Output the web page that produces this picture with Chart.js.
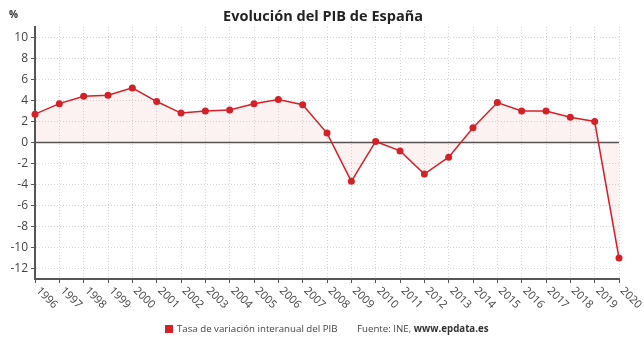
<!DOCTYPE html>
<html lang="es">
  <head>
    <meta charset="UTF-8" />
    <title>Evolución del PIB de España</title>
    <script src="https://cdn.jsdelivr.net/npm/chart.js"></script>
    <style>
      * { margin: 0; padding: 0; box-sizing: border-box; }
      body { background: #ffffff; font-family: "Open Sans", sans-serif; }
      .wrap { position: relative; width: 644px; height: 339px; }
      .footer {
        position: absolute;
        top: 322px;
        left: 0;
        width: 644px;
        font-size: 9.7px;
        line-height: 14px;
        color: #444;
      }
      .footer .legend { position: absolute; left: 165px; white-space: nowrap; }
      .footer .legend i {
        display: inline-block; width: 8px; height: 8px;
        background: #d42027; margin-right: 4px; vertical-align: -1px;
      }
      .footer .source { position: absolute; left: 357px; white-space: nowrap; }
      .footer .source b { color: #333; }
    </style>
  </head>
  <body>
    <div class="wrap">
      <canvas id="pib" width="644" height="339"></canvas>
      <div class="footer">
        <span class="legend"><i></i>Tasa de variación interanual del PIB</span>
        <span class="source">Fuente: INE, <b>www.epdata.es</b></span>
      </div>
    </div>
    <script>
      const years = ["1996", "1997", "1998", "1999", "2000", "2001", "2002", "2003", "2004",
        "2005", "2006", "2007", "2008", "2009", "2010", "2011", "2012", "2013", "2014",
        "2015", "2016", "2017", "2018", "2019", "2020"];
      const pibGrowth = [2.7, 3.7, 4.4, 4.5, 5.2, 3.9, 2.8, 3.0, 3.1, 3.7, 4.1, 3.6, 0.9,
        -3.7, 0.1, -0.8, -3.0, -1.4, 1.4, 3.8, 3.0, 3.0, 2.4, 2.0, -11.0];
      const yTicks = [-12, -10, -8, -6, -4, -2, 0, 2, 4, 6, 8, 10];

      // linea del cero, titulo, % y etiquetas de años giradas
      const extras = {
        id: "extras",
        beforeDatasetsDraw(chart) {
          const { ctx, chartArea, scales } = chart;
          const y0 = scales.y.getPixelForValue(0);
          ctx.save();
          ctx.strokeStyle = "#555";
          ctx.lineWidth = 1.5;
          ctx.beginPath();
          ctx.moveTo(chartArea.left, y0);
          ctx.lineTo(chartArea.right, y0);
          ctx.stroke();
          ctx.restore();
        },
        afterDraw(chart) {
          const { ctx, chartArea, scales } = chart;
          ctx.save();
          ctx.fillStyle = "#222";
          ctx.font = "bold 14.5px 'Open Sans'";
          ctx.textAlign = "center";
          ctx.textBaseline = "middle";
          ctx.fillText("Evolución del PIB de España", 323, 17);
          ctx.font = "bold 10px 'Open Sans'";
          ctx.textAlign = "left";
          ctx.fillStyle = "#333";
          ctx.fillText("%", 9, 15);

          ctx.font = "11px 'Open Sans'";
          ctx.fillStyle = "#444";
          ctx.textBaseline = "middle";
          years.forEach((yr, i) => {
            const x = scales.x.getPixelForValue(i);
            ctx.save();
            ctx.translate(x + 3, chartArea.bottom + 10);
            ctx.rotate(Math.PI / 4);
            ctx.fillText(yr, 0, 0);
            ctx.restore();
          });
          ctx.restore();
        }
      };

      new Chart(document.getElementById("pib"), {
        type: "line",
        data: {
          labels: years,
          datasets: [{
            label: "Tasa de variación interanual del PIB",
            data: pibGrowth,
            borderColor: "#d42027",
            borderWidth: 1.5,
            backgroundColor: "rgba(215, 40, 40, 0.06)",
            fill: "origin",
            tension: 0,
            pointRadius: 3.5,
            pointBackgroundColor: "#d42027",
            pointBorderColor: "#d42027",
            pointBorderWidth: 0
          }]
        },
        options: {
          responsive: false,
          animation: false,
          layout: { padding: { top: 27, right: 25, left: 0, bottom: 0 } },
          plugins: {
            legend: { display: false },
            tooltip: { enabled: false }
          },
          scales: {
            x: {
              offset: false,
              afterFit: (s) => { s.height = 60; },
              ticks: { display: false },
              grid: {
                color: "#d6d6d6",
                tickColor: "#555",
                tickLength: 4,
                drawTicks: true
              },
              border: { color: "#555", width: 2, dash: [1, 2] }
            },
            y: {
              min: -13,
              max: 11,
              afterFit: (s) => { s.width = 35; },
              afterBuildTicks: (s) => { s.ticks = yTicks.map((v) => ({ value: v })); },
              ticks: {
                color: "#444",
                padding: 3,
                font: { family: "'Open Sans'", size: 12 }
              },
              grid: {
                color: "#d6d6d6",
                tickColor: "#555",
                tickLength: 4
              },
              border: { color: "#555", width: 2, dash: [1, 2] }
            }
          }
        },
        plugins: [extras]
      });
    </script>
  </body>
</html>
